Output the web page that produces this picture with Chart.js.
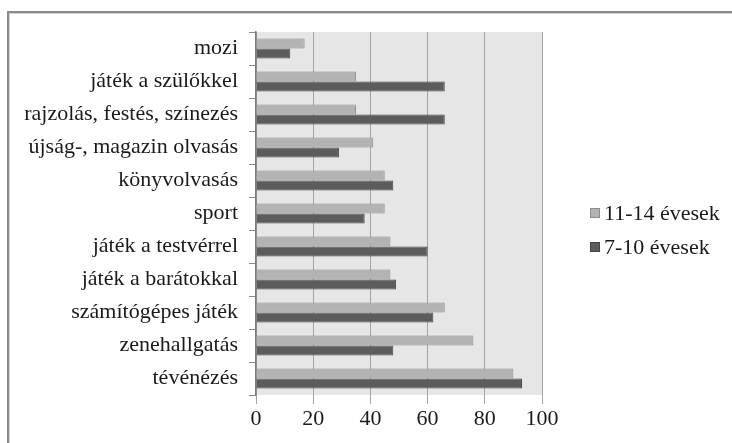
<!DOCTYPE html>
<html>
<head>
<meta charset="utf-8">
<script src="https://cdn.jsdelivr.net/npm/chart.js@4"></script>
<style>
  html, body { margin: 0; padding: 0; background: #fff; }
  #wrap { position: relative; width: 732px; height: 443px; overflow: hidden; }
  #frame { position: absolute; left: 7px; top: 11px; right: -10px; bottom: -10px;
           border-top: 2px solid #8a8a8a; border-left: 2px solid #8a8a8a;
           box-shadow: inset 1px 1px 0 #d4d4d4; pointer-events: none; }
  canvas { position: absolute; left: 0; top: 0; }
</style>
</head>
<body>
<div id="wrap">
  <canvas id="c" width="732" height="443"></canvas>
  <div id="frame"></div>
</div>
<script>
// Leisure activities, share of children (%)
const categories = [
  'mozi',
  'játék a szülőkkel',
  'rajzolás, festés, színezés',
  'újság-, magazin olvasás',
  'könyvolvasás',
  'sport',
  'játék a testvérrel',
  'játék a barátokkal',
  'számítógépes játék',
  'zenehallgatás',
  'tévénézés'
];
const seriesNames = ['11-14 évesek', '7-10 évesek'];
const olderValues   = [17, 35, 35, 41, 45, 45, 47, 47, 66, 76, 90];
const youngerValues = [12, 66, 66, 29, 48, 38, 60, 49, 62, 48, 93];
const xTicks = [0, 20, 40, 60, 80, 100];

const FONT = '"Liberation Serif", "Times New Roman", serif';

// grey plot background behind the bars
const plotBackground = {
  id: 'plotBackground',
  beforeDraw(chart) {
    const { ctx, chartArea: a } = chart;
    ctx.save();
    ctx.fillStyle = '#e6e6e6';
    ctx.fillRect(a.left, a.top, a.right - a.left, a.bottom - a.top);
    ctx.restore();
  }
};

// legend to the right of the plot, one row per dataset
const sideLegend = {
  id: 'sideLegend',
  afterDraw(chart) {
    const { ctx } = chart;
    ctx.save();
    ctx.font = '22px ' + FONT;
    ctx.textBaseline = 'middle';
    chart.data.datasets.forEach((ds, i) => {
      const cy = 213 + i * 34;
      ctx.fillStyle = ds.backgroundColor;
      ctx.strokeStyle = ds.borderColor;
      ctx.lineWidth = 1;
      ctx.fillRect(590, cy - 5, 10, 10);
      ctx.strokeRect(590.5, cy - 4.5, 9, 9);
      ctx.fillStyle = '#1a1a1a';
      ctx.fillText(ds.label, 604, cy + 1);
    });
    ctx.restore();
  }
};

new Chart(document.getElementById('c'), {
  type: 'bar',
  data: {
    labels: categories,
    datasets: [
      { label: seriesNames[0], data: olderValues,
        backgroundColor: '#b3b3b3', borderColor: '#8c8c8c', borderWidth: 1,
        categoryPercentage: 0.6, barPercentage: 1.0 },
      { label: seriesNames[1], data: youngerValues,
        backgroundColor: '#5c5c5c', borderColor: '#454545', borderWidth: 1,
        categoryPercentage: 0.6, barPercentage: 1.0 }
    ]
  },
  options: {
    indexAxis: 'y',
    responsive: false,
    animation: false,
    layout: { padding: { top: 32, right: 190, bottom: 0, left: 0 } },
    plugins: { legend: { display: false }, tooltip: { enabled: false } },
    scales: {
      x: {
        min: 0, max: 100,
        afterBuildTicks(scale) { scale.ticks = xTicks.map(v => ({ value: v })); },
        afterFit(scale) { scale.height = 48; },
        border: { display: false },
        grid: { color: '#a3a3a3', lineWidth: 1, tickLength: 9, drawTicks: true },
        ticks: { color: '#1a1a1a', font: { family: FONT, size: 22 }, padding: 2 }
      },
      y: {
        afterFit(scale) { scale.width = 256; },
        border: { display: true, color: '#7a7a7a', width: 1.5 },
        grid: { drawOnChartArea: false, color: '#8a8a8a', tickLength: 7, offset: true },
        ticks: { color: '#1a1a1a', font: { family: FONT, size: 22 }, padding: 11, autoSkip: false }
      }
    }
  },
  plugins: [plotBackground, sideLegend]
});
</script>
</body>
</html>
